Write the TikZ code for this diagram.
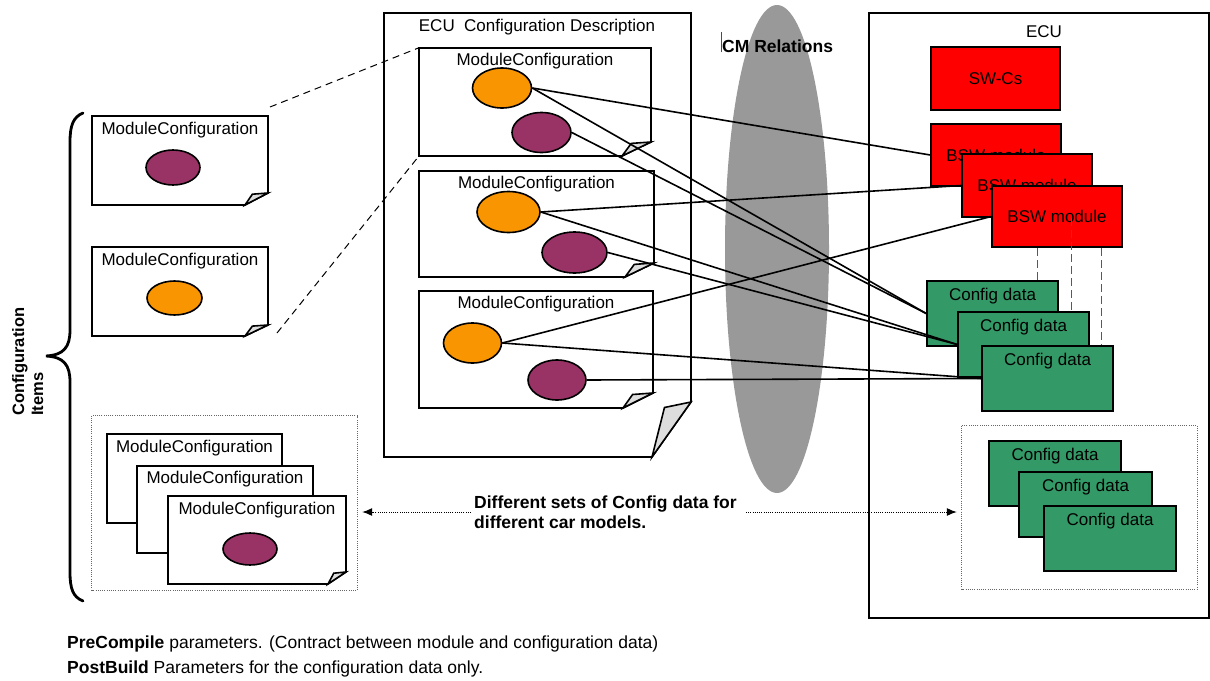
\documentclass[tikz,border=0pt]{standalone}
\usepackage{fontspec}
\setmainfont{Liberation Sans}
\usetikzlibrary{arrows.meta,calc,shapes.geometric}
\definecolor{redc}{HTML}{FF0000}
\definecolor{greenc}{HTML}{339966}
\definecolor{orangec}{HTML}{F99500}
\definecolor{purplec}{HTML}{993366}
\definecolor{foldgray}{HTML}{DDDDDD}
\definecolor{cmgray}{HTML}{999999}
\newcommand{\mfont}{\fontsize{17}{20}\selectfont}
\newcommand{\bfont}{\fontsize{17.5}{20}\selectfont\bfseries}
% #1 name, #2 x1, #3 y1, #4 x2, #5 y2, #6 dx, #7 dy
\newcommand{\docbox}[7]{%
  \node[inner sep=0, minimum width={(#4-#2)*1pt}, minimum height={(#5-#3)*1pt}] (#1) at ({(#2+#4)/2},{(#3+#5)/2}) {};
  \filldraw[boxline, fill=white] (#4-#6,#5) -- (#2,#5) -- (#2,#3) -- (#4,#3) -- (#4,#5-#7) -- cycle;
  \filldraw[boxline, fill=foldgray] (#4-#6,#5) -- (#4,#5-#7) -- ({#4-0.68*#6},{#5-0.9*#7}) -- cycle;
}
\begin{document}
\begin{tikzpicture}[x=1pt,y=-1pt,
  boxline/.style={draw=black, line width=1.6pt, line join=miter},
  mctext/.style={font=\mfont, anchor=base, inner sep=0},
  ell/.style={ellipse, draw=black, line width=1.6pt, inner sep=0},
  oell/.style={ell, fill=orangec},
  pell/.style={ell, fill=purplec},
  redbox/.style={draw=black, line width=1.6pt, fill=redc, font=\mfont, inner sep=0},
  greenbox/.style={draw=black, line width=1.6pt, fill=greenc, inner sep=0, minimum height=65},
  cdtext/.style={font=\mfont, anchor=base, inner sep=0},
  conn/.style={draw=black, line width=1.6pt},
  dashconn/.style={draw=black, line width=1pt, dash pattern=on 7pt off 5pt},
  bswdash/.style={draw=black!65, line width=1.3pt, dash pattern=on 8pt off 4pt},
  dotbox/.style={draw=black!60, line width=1pt, dash pattern=on 1pt off 1.2pt},
  dotarrow/.style={draw=black, line width=1pt, dash pattern=on 1pt off 1.2pt, -{Latex[length=10pt,width=8pt]}},
]
\useasboundingbox[fill=white] (0,0) rectangle (1210,680);

% CM relations ellipse
\node[ellipse, fill=cmgray, minimum width=104, minimum height=488, inner sep=0] (cm) at (777,249) {};

% ECU Configuration Description
\docbox{ecd}{384}{13}{691}{457}{39}{55}
\node[mctext] (ecdt) at (537,31) {ECU\ \ Configuration Description};

% Module configurations inside ECD
\docbox{mcA}{419}{48}{651}{156}{29}{14}
\node[mctext] (mcAt) at (535,65) {ModuleConfiguration};
\node[oell, minimum width=59, minimum height=40] (oA) at (502,88) {};
\node[pell, minimum width=59, minimum height=40] (pA) at (541.5,132.5) {};

\docbox{mcB}{419}{171}{654}{277}{29}{14}
\node[mctext] (mcBt) at (536.5,188) {ModuleConfiguration};
\node[oell, minimum width=63, minimum height=41] (oB) at (508.5,212) {};
\node[pell, minimum width=65, minimum height=41] (pB) at (574.5,252.5) {};

\docbox{mcC}{419}{291}{653}{408}{30}{15}
\node[mctext] (mcCt) at (536,308) {ModuleConfiguration};
\node[oell, minimum width=58, minimum height=40] (oC) at (472.5,343) {};
\node[pell, minimum width=58, minimum height=40] (pC) at (557,380) {};

% Left configuration items
\docbox{lb1}{92}{116}{268}{205}{23}{12}
\node[mctext] (lb1t) at (180,134) {ModuleConfiguration};
\node[pell, minimum width=54, minimum height=35] (lp1) at (173,167.5) {};

\docbox{lb2}{92}{247}{268}{336}{23}{11}
\node[mctext] (lb2t) at (180,265) {ModuleConfiguration};
\node[oell, minimum width=55, minimum height=34] (lo2) at (174.5,298) {};

\coordinate (d1s) at (270,107);
\coordinate (d2s) at (277,333);
\draw[dashconn] (d1s) -- (mcA.north west);
\draw[dashconn] (d2s) -- (mcA.south west);

% Stack at bottom left
\node[draw=none, inner sep=0, minimum width=265, minimum height=174] (ldot) at (224.5,503) {};
\draw[dotbox] (ldot.north west) rectangle (ldot.south east);
\node[boxline, fill=white, inner sep=0, minimum width=175, minimum height=89] (s1) at (194.5,478.5) {};
\node[mctext] (s1t) at (194.5,452) {ModuleConfiguration};
\node[boxline, fill=white, inner sep=0, minimum width=176, minimum height=87] (s2) at (225,509.5) {};
\node[mctext] (s2t) at (225,483) {ModuleConfiguration};
\docbox{s3}{168}{496}{346}{584}{18}{12}
\node[mctext] (s3t) at (257,514) {ModuleConfiguration};
\node[pell, minimum width=54, minimum height=32] (sp3) at (250,549) {};

% Brace and label
\draw[line width=2.8pt, line cap=round] (83,113) .. controls (73,117) and (70,126) .. (70,142) -- (70,330) .. controls (70,347) and (64,355) .. (46,356) .. controls (64,357) and (70,365) .. (70,382) -- (70,572) .. controls (70,589) and (73,597) .. (83,601);
\node[rotate=90, anchor=north west, inner sep=0, align=left, font=\fontsize{16.5}{19}\selectfont\bfseries] (ci) at (12,416) {Configuration\\Items};

% ECU box
\node[boxline, inner sep=0, minimum width=340, minimum height=605] (ecu) at (1039,315.5) {};
\node[mctext] (ecut) at (1044,37) {ECU};

\node[redbox, minimum width=129, minimum height=63] (swc) at (995.5,78.5) {SW-Cs};
\node[redbox, minimum width=130, minimum height=62] (bsw1) at (996,155) {BSW module};
\node[redbox, minimum width=130, minimum height=63] (bsw2) at (1027,185.5) {BSW module};
\node[redbox, minimum width=130, minimum height=61] (bsw3) at (1057,216.5) {BSW module};

\node[greenbox, minimum width=131] (cd1) at (992.5,313.5) {};
\node[cdtext] (cd1t) at (992.5,300) {Config data};
\node[greenbox, minimum width=131] (cd2) at (1023.5,344.5) {};
\node[cdtext] (cd2t) at (1023.5,331) {Config data};
\node[greenbox, minimum width=131] (cd3) at (1047.5,378.5) {};
\node[cdtext] (cd3t) at (1047.5,365) {Config data};

\draw[bswdash] ([xshift=46pt]bsw3.south west) -- ([xshift=46pt]bsw3.south west |- cd1.north);
\draw[bswdash] ([xshift=110pt]bsw2.south west) -- ([xshift=110pt]bsw2.south west |- cd2.north);
\draw[bswdash] ([xshift=110pt]bsw3.south west) -- ([xshift=110pt]bsw3.south west |- cd3.north);

% second set of config data
\node[draw=none, inner sep=0, minimum width=235, minimum height=163] (rdot) at (1079.5,507.5) {};
\draw[dotbox] (rdot.north west) rectangle (rdot.south east);
\node[greenbox, minimum width=132] (cd4) at (1055,473.5) {};
\node[cdtext] (cd4t) at (1055,460) {Config data};
\node[greenbox, minimum width=133] (cd5) at (1085.5,504.5) {};
\node[cdtext] (cd5t) at (1085.5,491) {Config data};
\node[greenbox, minimum width=132] (cd6) at (1110,538.5) {};
\node[cdtext] (cd6t) at (1110,525) {Config data};

% connectors
\draw[conn] (oA.east) -- (bsw1.west);
\draw[conn] (oA.east) -- (cd1.west);
\draw[conn] (pA.east) -- (cd1.west);
\draw[conn] (oB.east) -- (bsw2.west);
\draw[conn] (oB.east) -- (cd2.west);
\draw[conn] (pB.east) -- (cd2.west);
\draw[conn] (oC.east) -- (bsw3.west);
\draw[conn] (oC.east) -- (cd3.west);
\draw[conn] (pC.east) -- (cd3.west);

% CM relations label
\node[font=\bfont, anchor=base west, inner sep=0] (cmt) at (722,52) {CM Relations};
\draw[black!70, line width=0.6pt] ([xshift=-1pt]cmt.base west) -- ++(0,-20);

% different sets text and arrows
\node[font=\bfont, align=left, anchor=west, inner sep=3pt] (diff) at (471,512) {Different sets of Config data for\\different car models.};
\draw[dotarrow, shorten >=5pt] (diff.west) -- (diff.west -| ldot.east);
\draw[dotarrow, shorten >=5pt] ([xshift=6pt]diff.east) -- (diff.east -| rdot.west);

% footnotes
\node[anchor=base west, inner sep=0, font=\fontsize{17.5}{20}\selectfont] (pre) at (67,648) {\textbf{PreCompile} parameters. (Contract between module and configuration data)};
\node[anchor=base west, inner sep=0, font=\fontsize{17.5}{20}\selectfont] (post) at (67,673) {\textbf{PostBuild} Parameters for the configuration data only.};
\end{tikzpicture}
\end{document}
